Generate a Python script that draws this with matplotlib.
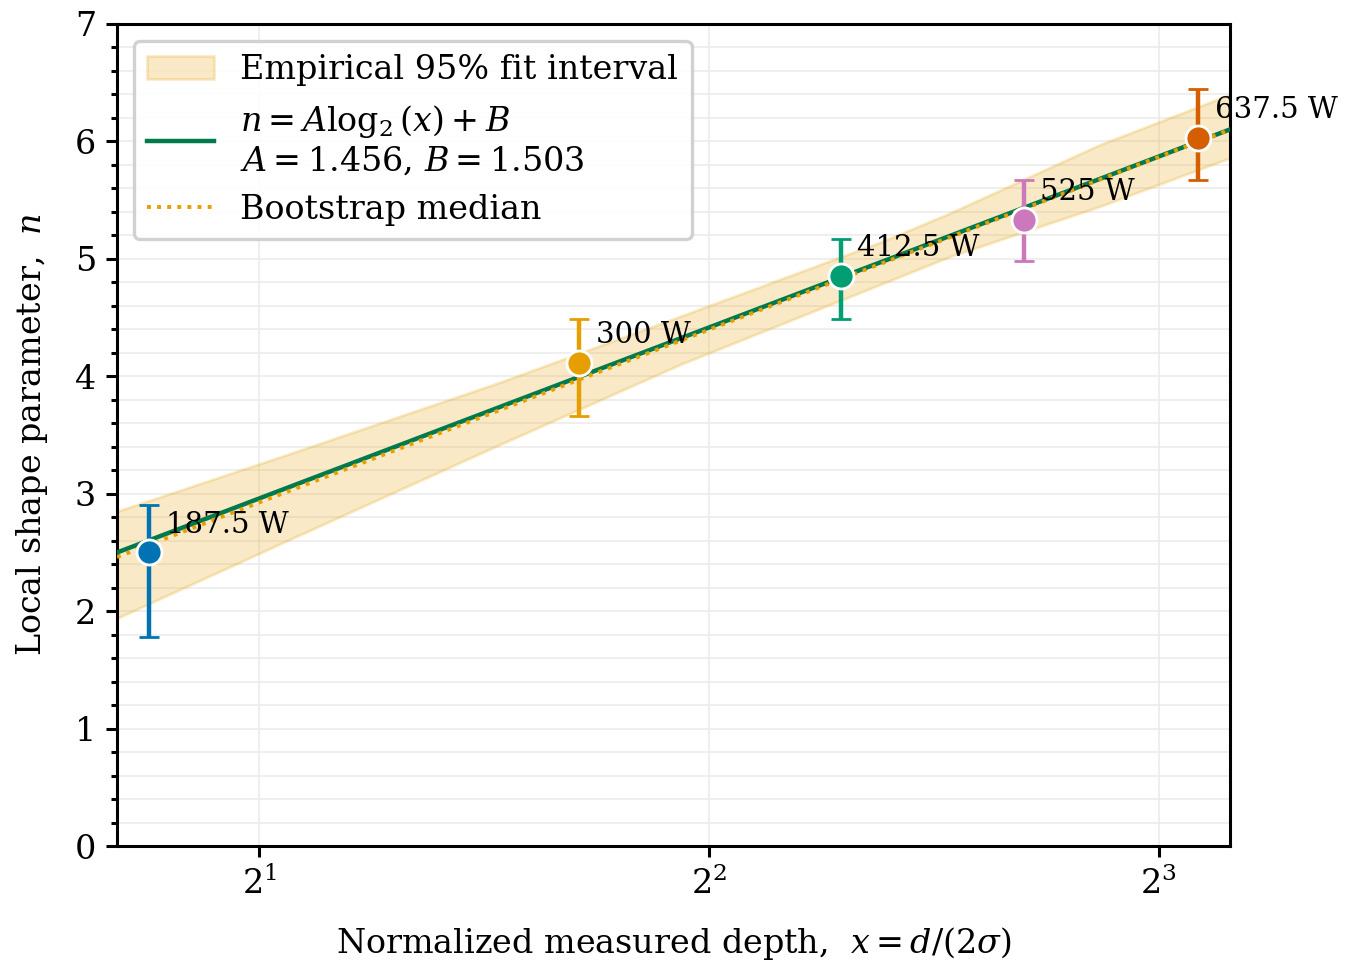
import numpy as np
import matplotlib
matplotlib.use("Agg")
import matplotlib.pyplot as plt

plt.rcParams["font.family"] = ["DejaVu Serif"]
plt.rcParams["mathtext.fontset"] = "dejavuserif"
plt.rcParams["font.size"] = 12

# ---- data ----
labels = ["187.5 W", "300 W", "412.5 W", "525 W", "637.5 W"]
x_pts = [1.689, 3.274, 4.900, 6.498, 8.499]
n_pts = [2.50, 4.11, 4.855, 5.33, 6.03]
err_lo = [0.72, 0.45, 0.37, 0.35, 0.36]
err_hi = [0.40, 0.38, 0.31, 0.34, 0.42]
colors = ["#0173b2", "#e69f00", "#029e73", "#cc78bc", "#d55e00"]

A_fit, B_fit = 1.456, 1.503
A_med, B_med = 1.471, 1.454

band_x = [1.607, 2.130, 2.900, 3.826, 5.205, 5.800, 7.300, 8.930]
band_lo = [1.94, 2.65, 3.42, 4.10, 4.78, 5.02, 5.445, 5.86]
band_hi = [2.85, 3.37, 3.95, 4.51, 5.14, 5.39, 5.97, 6.40]

xlim = (1.607, 8.93)
ylim = (0, 7)

fig = plt.figure(figsize=(6.75, 4.875), dpi=200)
ax = fig.add_axes([0.0867, 0.1323, 0.8244, 0.8431])

ax.set_xscale("log", base=2)
ax.set_xlim(*xlim)
ax.set_ylim(*ylim)

xx = np.geomspace(xlim[0], xlim[1], 200)
ax.fill_between(band_x, band_lo, band_hi, facecolor="#e69f00", alpha=0.22,
                edgecolor="#e69f00", linewidth=1.0, zorder=2,
                label="Empirical 95% fit interval")
ax.plot(xx, A_fit * np.log2(xx) + B_fit, color="#007a4d", lw=1.6, zorder=3,
        label="$n = A\\log_2(x) + B$\n$A = 1.456$, $B = 1.503$")
ax.plot(xx, A_med * np.log2(xx) + B_med, color="#e69f00", lw=1.4, ls=(0, (1, 1.6)),
        zorder=4, label="Bootstrap median")

for xi, ni, lo, hi, c, lab in zip(x_pts, n_pts, err_lo, err_hi, colors, labels):
    ax.errorbar([xi], [ni], yerr=[[lo], [hi]], fmt="o", color=c, ms=9,
                mec="white", mew=1.0, elinewidth=1.6, capsize=3.5, capthick=1.5,
                zorder=5)
    ax.annotate(lab, (xi, ni), xytext=(6, 5), textcoords="offset points",
                ha="left", va="bottom", fontsize=10.5, zorder=6)

ax.yaxis.set_major_locator(matplotlib.ticker.MultipleLocator(1))
ax.yaxis.set_minor_locator(matplotlib.ticker.MultipleLocator(0.2))
ax.tick_params(which="both", direction="out", width=1.1)
ax.tick_params(which="major", length=4)
ax.tick_params(which="minor", length=2.2)
ax.grid(which="both", color="#ebebeb", lw=0.7, alpha=0.8)
ax.set_axisbelow(True)
for s in ax.spines.values():
    s.set_linewidth(1.1)

ax.set_xlabel("Normalized measured depth,  $x = d/(2\\sigma)$", labelpad=8.5)
ax.set_ylabel("Local shape parameter,  $n$", labelpad=9)

leg = ax.legend(loc="upper left", fontsize=12, framealpha=0.9,
                edgecolor="#cccccc", fancybox=True)
leg.get_frame().set_linewidth(1.2)

fig.savefig("out.png", dpi=200)
